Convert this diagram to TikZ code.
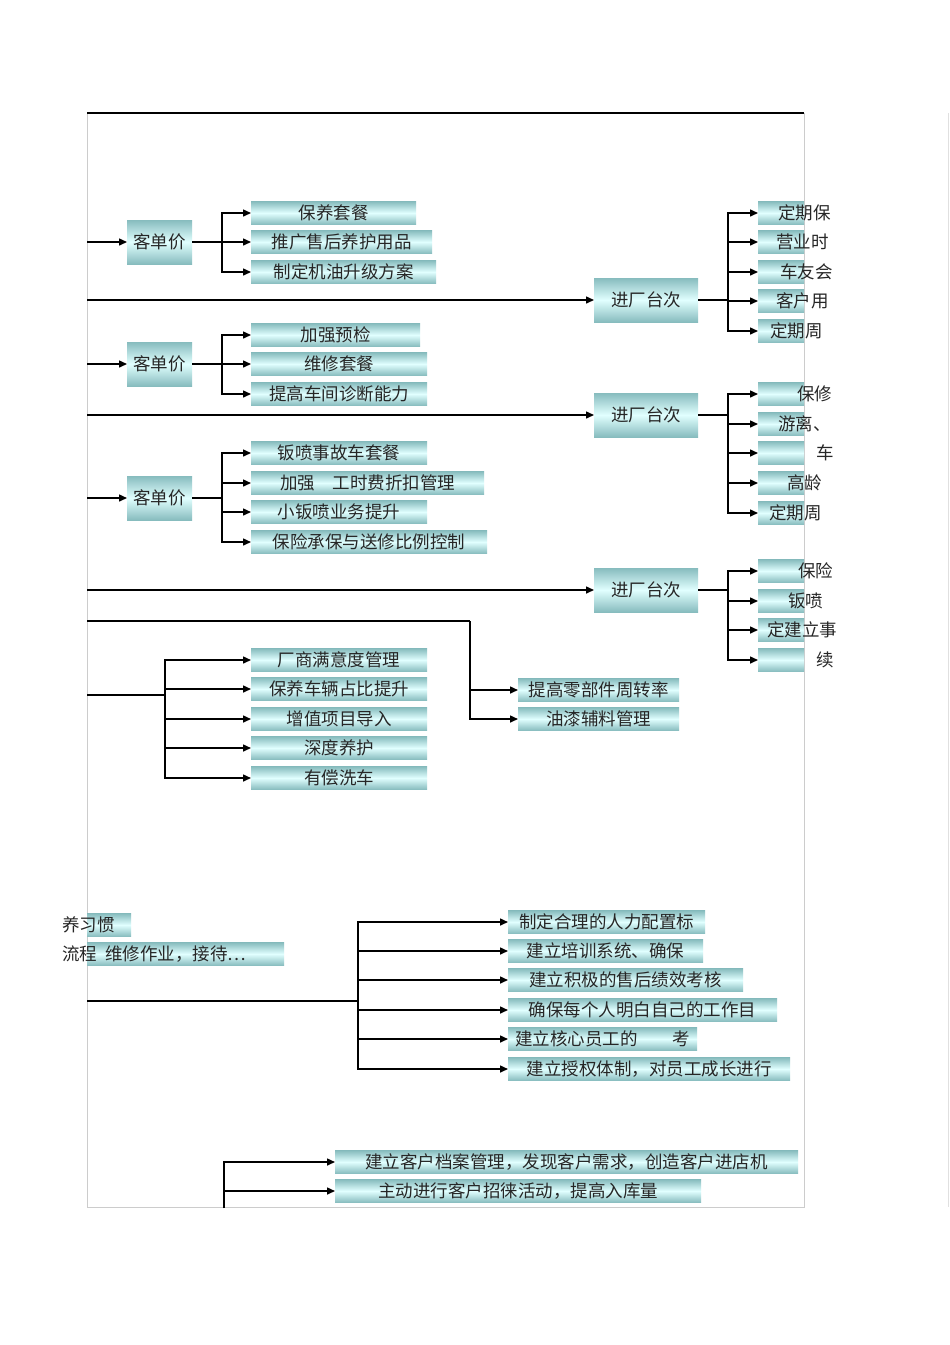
\documentclass[tikz,border=0pt]{standalone}
\usepackage{fontspec}
\newfontfamily\cjk{Noto Sans CJK SC}
\usetikzlibrary{arrows.meta}
\definecolor{tdark}{RGB}{135,188,190}
\definecolor{tlight}{RGB}{225,255,255}
\tikzset{x=1pt,y=-1pt,
 bxs/.style={top color=tdark,bottom color=tdark,middle color=tlight,draw=none,inner sep=0pt,anchor=west},
 txt/.style={font=\cjk\fontsize{17.5}{17.5}\selectfont,inner sep=0pt,text=black!85},
 arr/.style={line width=1.5pt,-{Triangle[length=8pt,width=7pt]}},
 ln/.style={line width=1.5pt}}
\newcommand{\bx}[6]{\node[bxs,minimum width=#3-#2,minimum height=#5] (#1) at (#2,#4) {};\node[txt] at (#1.center) {#6};}
\begin{document}
\begin{tikzpicture}
\useasboundingbox (0,0) rectangle (950,1345);
\fill[white] (0,0) rectangle (950,1345);
% frame
\draw[black!20,line width=0.8pt] (87,113) -- (87,1207) -- (804,1207) -- (804,113);
\draw[black!12,line width=0.8pt] (948,113) -- (948,1207);
\draw[line width=1.5pt] (87,113) -- (804,113);
\coordinate (L1) at (87,242); \coordinate (L2) at (87,364); \coordinate (L3) at (87,498);
\coordinate (M1) at (87,300); \coordinate (M2) at (87,415); \coordinate (M3) at (87,590);
\coordinate (L4) at (87,621); \coordinate (L5) at (87,695); \coordinate (L6) at (87,1001);
% section 1
\bx{k1}{127}{192}{242}{44}{客单价}
\draw[arr] (L1) -- (k1.west);
\coordinate (j1) at (222,242);
\draw[ln] (k1.east) -- (j1);
\bx{a1}{251}{416}{213}{23}{保养套餐}
\bx{a2}{251}{432}{242}{23}{推广售后养护用品}
\bx{a3}{251}{436}{272}{23}{制定机油升级方案}
\foreach \n in {a1,a2,a3} \draw[arr] (j1) |- (\n.west);
\bx{p1}{594}{698}{300}{44}{进厂台次}
\draw[arr] (M1) -- (p1.west);
\coordinate (q1) at (728,300);
\draw[ln] (p1.east) -- (q1);
\node[bxs,minimum width=46,minimum height=23] (r11) at (758,213) {};
\node[bxs,minimum width=46,minimum height=23] (r12) at (758,242) {};
\node[bxs,minimum width=46,minimum height=23] (r13) at (758,272) {};
\node[bxs,minimum width=46,minimum height=23] (r14) at (758,301) {};
\node[bxs,minimum width=46,minimum height=23] (r15) at (758,331) {};
\node[txt,anchor=west] at (778,213) {定期保};
\node[txt,anchor=west] at (776,242) {营业时};
\node[txt,anchor=west] at (780,272) {车友会};
\node[txt,anchor=west] at (776,301) {客户用};
\node[txt,anchor=west] at (770,331) {定期周};
\foreach \n in {r11,r12,r13,r14,r15} \draw[arr] (q1) |- (\n.west);
% section 2
\bx{k2}{127}{192}{364}{44}{客单价}
\draw[arr] (L2) -- (k2.west);
\coordinate (j2) at (222,364);
\draw[ln] (k2.east) -- (j2);
\bx{b1}{251}{420}{335}{23}{加强预检}
\bx{b2}{251}{427}{364}{23}{维修套餐}
\bx{b3}{251}{427}{394}{23}{提高车间诊断能力}
\foreach \n in {b1,b2,b3} \draw[arr] (j2) |- (\n.west);
\bx{p2}{594}{698}{415}{44}{进厂台次}
\draw[arr] (M2) -- (p2.west);
\coordinate (q2) at (728,415);
\draw[ln] (p2.east) -- (q2);
\node[bxs,minimum width=46,minimum height=23] (r21) at (758,394) {};
\node[bxs,minimum width=46,minimum height=23] (r22) at (758,424) {};
\node[bxs,minimum width=46,minimum height=23] (r23) at (758,453) {};
\node[bxs,minimum width=46,minimum height=23] (r24) at (758,483) {};
\node[bxs,minimum width=46,minimum height=23] (r25) at (758,513) {};
\node[txt,anchor=west] at (797,394) {保修};
\node[txt,anchor=west] at (778,424) {游离、};
\node[txt,anchor=west] at (816,453) {车};
\node[txt,anchor=west] at (787,483) {高龄};
\node[txt,anchor=west] at (769,513) {定期周};
\foreach \n in {r21,r22,r23,r24,r25} \draw[arr] (q2) |- (\n.west);
% section 3
\bx{k3}{127}{192}{498}{44}{客单价}
\draw[arr] (L3) -- (k3.west);
\coordinate (j3) at (222,498);
\draw[ln] (k3.east) -- (j3);
\bx{c1}{251}{427}{453}{23}{钣喷事故车套餐}
\bx{c2}{251}{484}{483}{23}{加强\quad 工时费折扣管理}
\bx{c3}{251}{427}{512}{23}{小钣喷业务提升}
\bx{c4}{251}{487}{542}{23}{保险承保与送修比例控制}
\foreach \n in {c1,c2,c3,c4} \draw[arr] (j3) |- (\n.west);
\bx{p3}{594}{698}{590}{44}{进厂台次}
\draw[arr] (M3) -- (p3.west);
\coordinate (q3) at (728,590);
\draw[ln] (p3.east) -- (q3);
\node[bxs,minimum width=46,minimum height=23] (r31) at (758,571) {};
\node[bxs,minimum width=46,minimum height=23] (r32) at (758,601) {};
\node[bxs,minimum width=46,minimum height=23] (r33) at (758,630) {};
\node[bxs,minimum width=46,minimum height=23] (r34) at (758,660) {};
\node[txt,anchor=west] at (798,571) {保险};
\node[txt,anchor=west] at (788,601) {钣喷};
\node[txt,anchor=west] at (767,630) {定建立事};
\node[txt,anchor=west] at (816,660) {续};
\foreach \n in {r31,r32,r33,r34} \draw[arr] (q3) |- (\n.west);
% section 4
\coordinate (j4) at (470,621);
\draw[ln] (L4) -- (j4);
\bx{d1}{518}{679}{690}{23}{提高零部件周转率}
\bx{d2}{518}{679}{719}{23}{油漆辅料管理}
\foreach \n in {d1,d2} \draw[arr] (j4) |- (\n.west);
\coordinate (j5) at (165,695);
\draw[ln] (L5) -- (j5);
\bx{e1}{251}{427}{660}{23}{厂商满意度管理}
\bx{e2}{251}{427}{689}{23}{保养车辆占比提升}
\bx{e3}{251}{427}{719}{23}{增值项目导入}
\bx{e4}{251}{427}{748}{23}{深度养护}
\bx{e5}{251}{427}{778}{23}{有偿洗车}
\foreach \n in {e1,e2,e3,e4,e5} \draw[arr] (j5) |- (\n.west);
% section 5
\node[bxs,minimum width=44,minimum height=23] (s1) at (87,925) {};
\node[txt,anchor=west] (s1t) at (62,925) {养习惯};
\node[bxs,minimum width=197,minimum height=23] (s2) at (87,954) {};
\node[txt,anchor=west] (s2t) at (62,954) {流程\ \ 维修作业，接待…};
\coordinate (j6) at (358,1001);
\draw[line width=2pt] (L6) -- (j6);
\bx{f1}{508}{705}{922}{23}{制定合理的人力配置标}
\bx{f2}{508}{703}{951}{23}{建立培训系统、确保}
\bx{f3}{508}{743}{980}{23}{建立积极的售后绩效考核}
\bx{f4}{508}{777}{1010}{23}{确保每个人明白自己的工作目}
\bx{f5}{508}{697}{1039}{23}{建立核心员工的\qquad 考}
\bx{f6}{508}{790}{1069}{23}{建立授权体制，对员工成长进行}
\foreach \n in {f1,f2,f3,f4,f5,f6} \draw[arr] (j6) |- (\n.west);
% section 6
\coordinate (j7) at (224,1208);
\bx{g1}{335}{798}{1162}{23}{建立客户档案管理，发现客户需求，创造客户进店机}
\bx{g2}{335}{701}{1191}{23}{主动进行客户招徕活动，提高入库量}
\foreach \n in {g1,g2} \draw[arr] (j7) |- (\n.west);
\end{tikzpicture}
\end{document}
